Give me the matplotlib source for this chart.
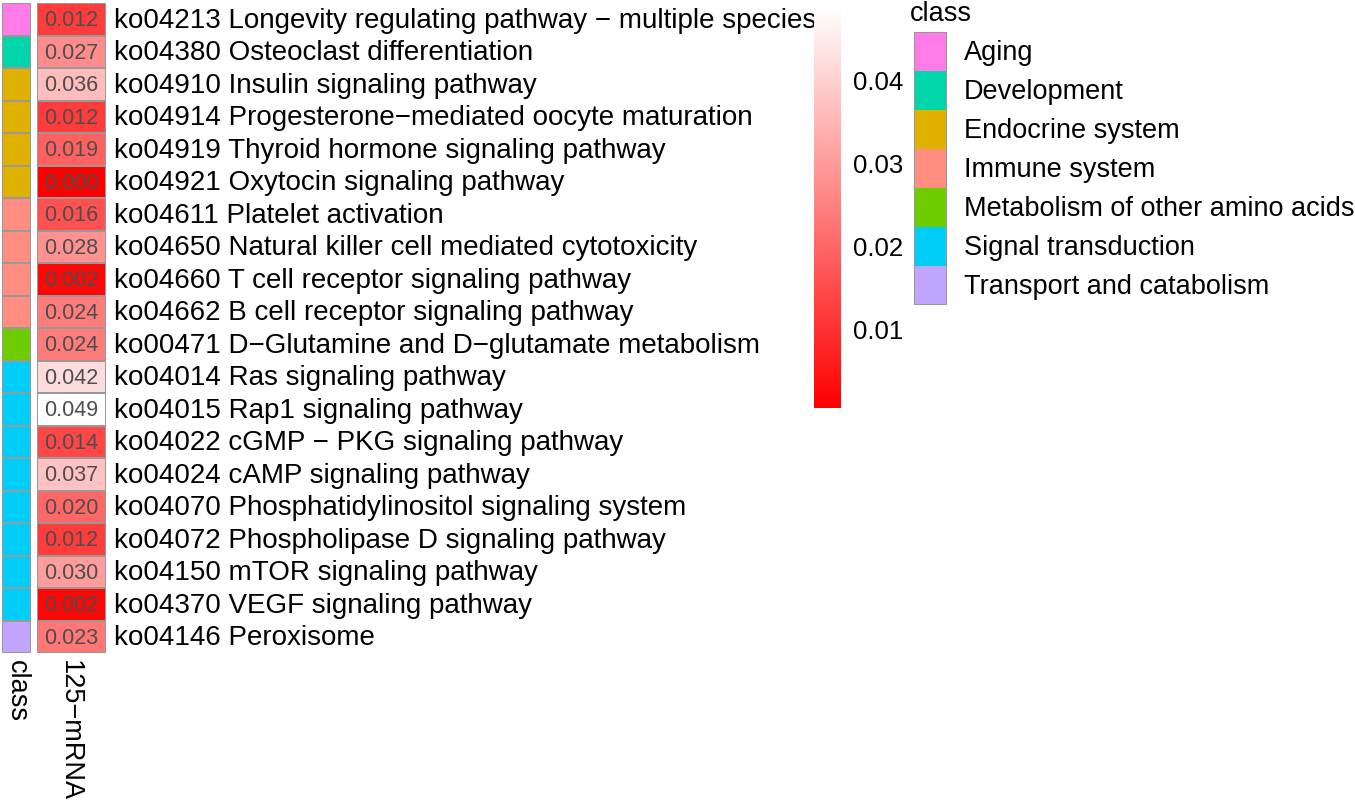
import matplotlib.pyplot as plt
import numpy as np
from matplotlib.colors import ListedColormap, LinearSegmentedColormap, Normalize
from matplotlib.patches import Rectangle

plt.rcParams['font.family'] = ['Liberation Sans', 'DejaVu Sans']

# 資料
pathways = [
    "ko04213 Longevity regulating pathway \u2212 multiple species",
    "ko04380 Osteoclast differentiation",
    "ko04910 Insulin signaling pathway",
    "ko04914 Progesterone\u2212mediated oocyte maturation",
    "ko04919 Thyroid hormone signaling pathway",
    "ko04921 Oxytocin signaling pathway",
    "ko04611 Platelet activation",
    "ko04650 Natural killer cell mediated cytotoxicity",
    "ko04660 T cell receptor signaling pathway",
    "ko04662 B cell receptor signaling pathway",
    "ko00471 D\u2212Glutamine and D\u2212glutamate metabolism",
    "ko04014 Ras signaling pathway",
    "ko04015 Rap1 signaling pathway",
    "ko04022 cGMP \u2212 PKG signaling pathway",
    "ko04024 cAMP signaling pathway",
    "ko04070 Phosphatidylinositol signaling system",
    "ko04072 Phospholipase D signaling pathway",
    "ko04150 mTOR signaling pathway",
    "ko04370 VEGF signaling pathway",
    "ko04146 Peroxisome",
]
values = [0.012, 0.027, 0.036, 0.012, 0.019, 0.000, 0.016, 0.028, 0.002, 0.024,
          0.024, 0.042, 0.049, 0.014, 0.037, 0.020, 0.012, 0.030, 0.002, 0.023]
row_class = ["Aging", "Development", "Endocrine system", "Endocrine system",
             "Endocrine system", "Endocrine system", "Immune system", "Immune system",
             "Immune system", "Immune system", "Metabolism of other amino acids",
             "Signal transduction", "Signal transduction", "Signal transduction",
             "Signal transduction", "Signal transduction", "Signal transduction",
             "Signal transduction", "Signal transduction", "Transport and catabolism"]
classes = ["Aging", "Development", "Endocrine system", "Immune system",
           "Metabolism of other amino acids", "Signal transduction",
           "Transport and catabolism"]
class_colors = ["#FF7BE8", "#00D6AA", "#E0B100", "#FF8D80", "#6DCD00", "#00CEF8", "#C0A6FF"]
col_names = ["class", "125\u2212mRNA"]

W, H = 1355, 805
fig = plt.figure(figsize=(W / 100, H / 100), dpi=100)

def px_axes(x0, y0, x1, y1):
    # 以像素座標 (左上為原點) 建立 axes
    return fig.add_axes([x0 / W, 1 - y1 / H, (x1 - x0) / W, (y1 - y0) / H])

n = len(values)
top, bottom = 3, 653
cmap = LinearSegmentedColormap.from_list("rw", ["#FF0000", "#FFFFFF"])
norm = Normalize(vmin=0.0006, vmax=0.0487)

# class 欄位
ax_c = px_axes(2, top, 31, bottom)
idx = np.array([[classes.index(c)] for c in row_class])
ax_c.pcolormesh(idx, cmap=ListedColormap(class_colors), vmin=-0.5, vmax=len(classes) - 0.5,
                edgecolors="#999999", linewidth=1.2)
ax_c.set_ylim(n, 0)
ax_c.axis("off")

# 數值熱圖
ax_h = px_axes(37, top, 106, bottom)
arr = np.array(values).reshape(-1, 1)
ax_h.pcolormesh(arr, cmap=cmap, norm=norm, edgecolors="#999999", linewidth=1.2)
ax_h.set_ylim(n, 0)
ax_h.set_xlim(0, 1)
ax_h.axis("off")
for i, v in enumerate(values):
    ax_h.text(0.5, i + 0.55, f"{v:.3f}", ha="center", va="center", fontsize=15.5, color="#4d4d4d")
    ax_h.text(1.11, i + 0.55, pathways[i], ha="left", va="center", fontsize=20,
              color="black", clip_on=False)

# 欄名稱
fig.text(17 / W, 1 - 660 / H, col_names[0], rotation=270, ha="center", va="top", fontsize=19.5)
fig.text(70 / W, 1 - 660 / H, col_names[1], rotation=270, ha="center", va="top", fontsize=19.5)

# 色條
ax_cb = px_axes(814, 8, 841, 408)
grad = np.linspace(norm.vmin, norm.vmax, 256).reshape(-1, 1)
ax_cb.imshow(grad, aspect="auto", cmap=cmap, norm=norm, origin="lower",
             extent=[0, 1, norm.vmin, norm.vmax])
ax_cb.set_xticks([])
ax_cb.yaxis.tick_right()
ax_cb.set_yticks([0.01, 0.02, 0.03, 0.04])
ax_cb.set_yticklabels(["0.01", "0.02", "0.03", "0.04"], fontsize=18.5)
ax_cb.tick_params(axis="y", length=0, pad=9)
for s in ax_cb.spines.values():
    s.set_visible(False)

# 圖例
fig.text(910 / W, 1 - 14 / H, "class", ha="left", va="center", fontsize=19.5)
ax_l = px_axes(914, 32, 947, 305)
for k, (c, col) in enumerate(zip(classes, class_colors)):
    ax_l.add_patch(Rectangle((0, k), 1, 1, facecolor=col, edgecolor="none"))
    ax_l.text(1.5, k + 0.55, c, ha="left", va="center", fontsize=19.5, clip_on=False)
ax_l.add_patch(Rectangle((0, 0), 1, len(classes), facecolor="none", edgecolor="#999999", lw=1.5))
ax_l.set_xlim(0, 1)
ax_l.set_ylim(len(classes), 0)
ax_l.axis("off")

fig.savefig("out.png", dpi=100)
